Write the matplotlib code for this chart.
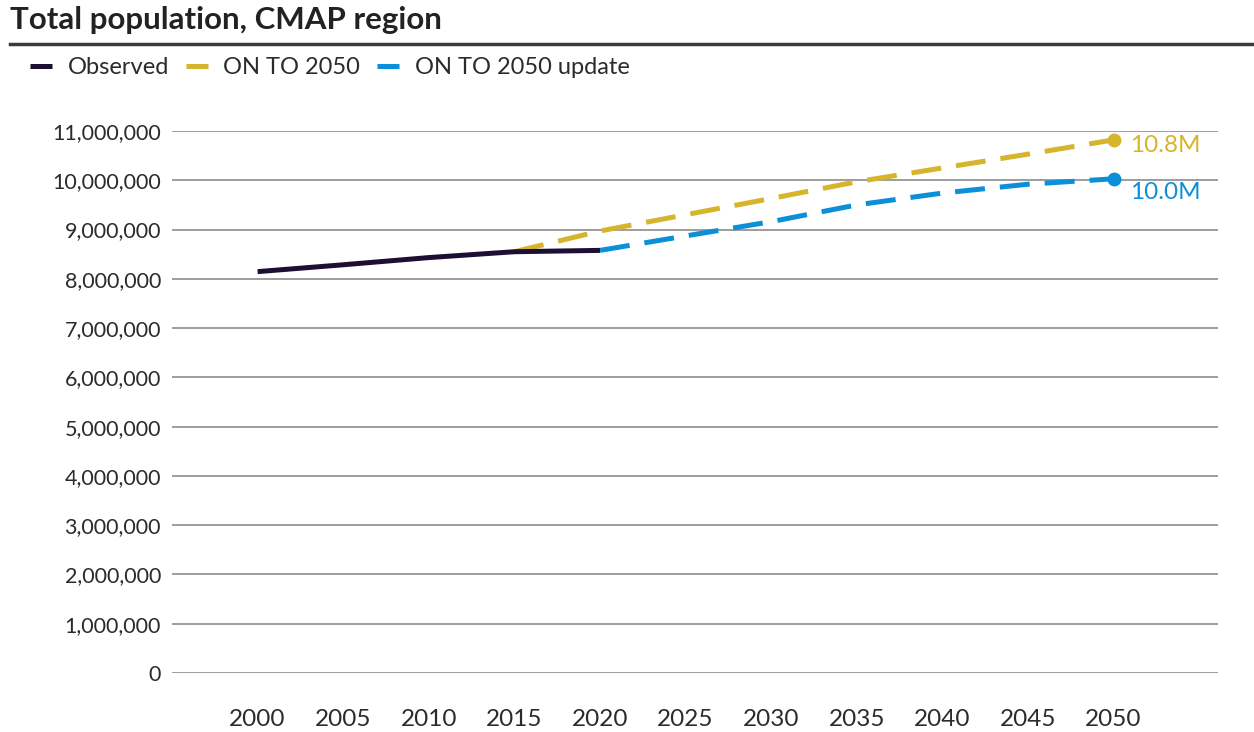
import matplotlib.pyplot as plt
from matplotlib.lines import Line2D
from matplotlib.ticker import FuncFormatter

# data
obs_years = [2000, 2005, 2010, 2015, 2020]
observed = [8146000, 8285000, 8431000, 8550000, 8577000]

onto_years = [2015, 2020, 2025, 2030, 2035, 2040, 2045, 2050]
onto_2050 = [8550000, 8970000, 9300000, 9630000, 9970000, 10250000, 10530000, 10820000]

upd_years = [2020, 2025, 2030, 2035, 2040, 2045, 2050]
onto_update = [8577000, 8870000, 9160000, 9500000, 9740000, 9920000, 10030000]

end_labels = ['10.8M', '10.0M']
x_ticks = [2000, 2005, 2010, 2015, 2020, 2025, 2030, 2035, 2040, 2045, 2050]
y_ticks = [0, 1000000, 2000000, 3000000, 4000000, 5000000, 6000000,
           7000000, 8000000, 9000000, 10000000, 11000000]

c_obs = '#1d0f33'
c_gold = '#d6b42c'
c_blue = '#0b8fd8'
c_text = '#2b2b2b'

plt.rcParams['font.family'] = ['Lato', 'DejaVu Sans']

fig = plt.figure(figsize=(12.54, 7.32), dpi=100)
ax = fig.add_axes([172 / 1254, 1 - 673 / 732, (1218 - 172) / 1254, (673 - 131) / 732])

dash = (6, 3)
ax.plot(onto_years, onto_2050, color=c_gold, lw=3.6, dashes=dash, zorder=3)
ax.plot(upd_years, onto_update, color=c_blue, lw=3.6, dashes=dash, zorder=3)
ax.plot(obs_years, observed, color=c_obs, lw=3.6, solid_capstyle='butt', zorder=4)

ax.plot(onto_years[-1], onto_2050[-1], 'o', color=c_gold, ms=9, zorder=5)
ax.plot(upd_years[-1], onto_update[-1], 'o', color=c_blue, ms=9, zorder=5)
ax.annotate(end_labels[0], (onto_years[-1], onto_2050[-1]), xytext=(12, -4),
            textcoords='offset points', color=c_gold, fontsize=17.5, va='center')
ax.annotate(end_labels[1], (upd_years[-1], onto_update[-1]), xytext=(12, -10),
            textcoords='offset points', color=c_blue, fontsize=17.5, va='center')

ax.set_xlim(1995, 2056.1)
ax.set_ylim(0, 11000000)
ax.set_xticks(x_ticks)
ax.set_yticks(y_ticks)
ax.yaxis.set_major_formatter(FuncFormatter(lambda v, p: f'{int(v):,}'))
ax.tick_params(length=0, labelsize=15.5, labelcolor=c_text)
ax.tick_params(axis='x', pad=26, labelsize=17.5)
ax.tick_params(axis='y', pad=8)
ax.grid(axis='y', color='#8c8c8c', lw=1.2)
ax.set_axisbelow(True)
for s in ax.spines.values():
    s.set_visible(False)

# title and rule
fig.text(10 / 1254, 1 - 20 / 732, 'Total population, CMAP region', fontsize=22.5,
         fontweight='bold', color='#222222', va='center', ha='left')
fig.add_artist(Line2D([10 / 1254, 1], [1 - 44 / 732] * 2, color='#3a3a3a', lw=2.5))

handles = [Line2D([], [], color=c_obs, lw=3.6, solid_capstyle='butt'),
           Line2D([], [], color=c_gold, lw=3.6, solid_capstyle='butt'),
           Line2D([], [], color=c_blue, lw=3.6, solid_capstyle='butt')]
fig.legend(handles, ['Observed', 'ON TO 2050', 'ON TO 2050 update'],
           loc='center left', bbox_to_anchor=(30 / 1254, 1 - 68 / 732), ncol=3,
           frameon=False, fontsize=17, handlelength=0.95, handletextpad=0.65,
           columnspacing=0.7, borderaxespad=0, borderpad=0,
           labelcolor=c_text)

fig.savefig('out.png', dpi=100)
